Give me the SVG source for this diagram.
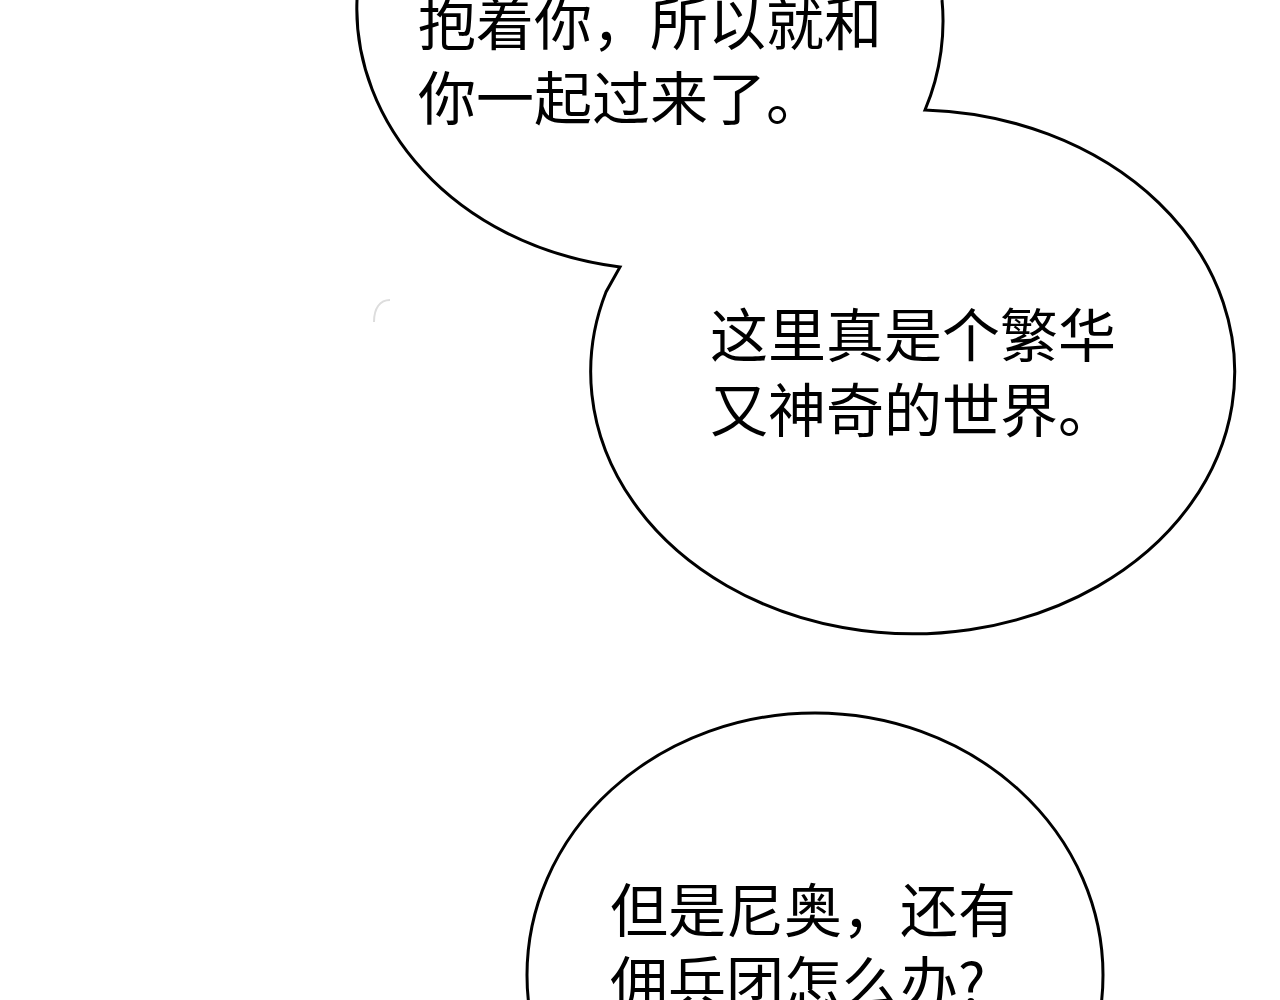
<svg xmlns="http://www.w3.org/2000/svg" width="1280" height="1000" viewBox="0 0 1280 1000">
<style>
.b{fill:#fff;stroke:#000;stroke-width:3}
.t{font-family:"Noto Sans CJK SC",sans-serif;font-size:58px;fill:#000}
</style>
<rect width="1280" height="1000" fill="#fff"/>
<g id="bubble1">
<path class="b" d="M357,0 C352,120 450,245 620,267 L606,292 A322,262 0 1 0 925,110 C942,70 945,30 942,0"/>
<text class="t" x="418" y="45">抱着你，所以就和</text>
<text class="t" x="418" y="120">你一起过来了。</text>
</g>
<g id="bubble2">
<text class="t" x="710" y="357">这里真是个繁华</text>
<text class="t" x="710" y="432">又神奇的世界。</text>
</g>
<g id="bubble3">
<ellipse class="b" cx="815" cy="975" rx="288" ry="262"/>
<text class="t" x="610" y="932">但是尼奥，还有</text>
<text class="t" x="610" y="1005">佣兵团怎么办?</text>
</g>
<path d="M374,322 C374,308 380,300 390,300" fill="none" stroke="#ddd" stroke-width="2"/>
</svg>
